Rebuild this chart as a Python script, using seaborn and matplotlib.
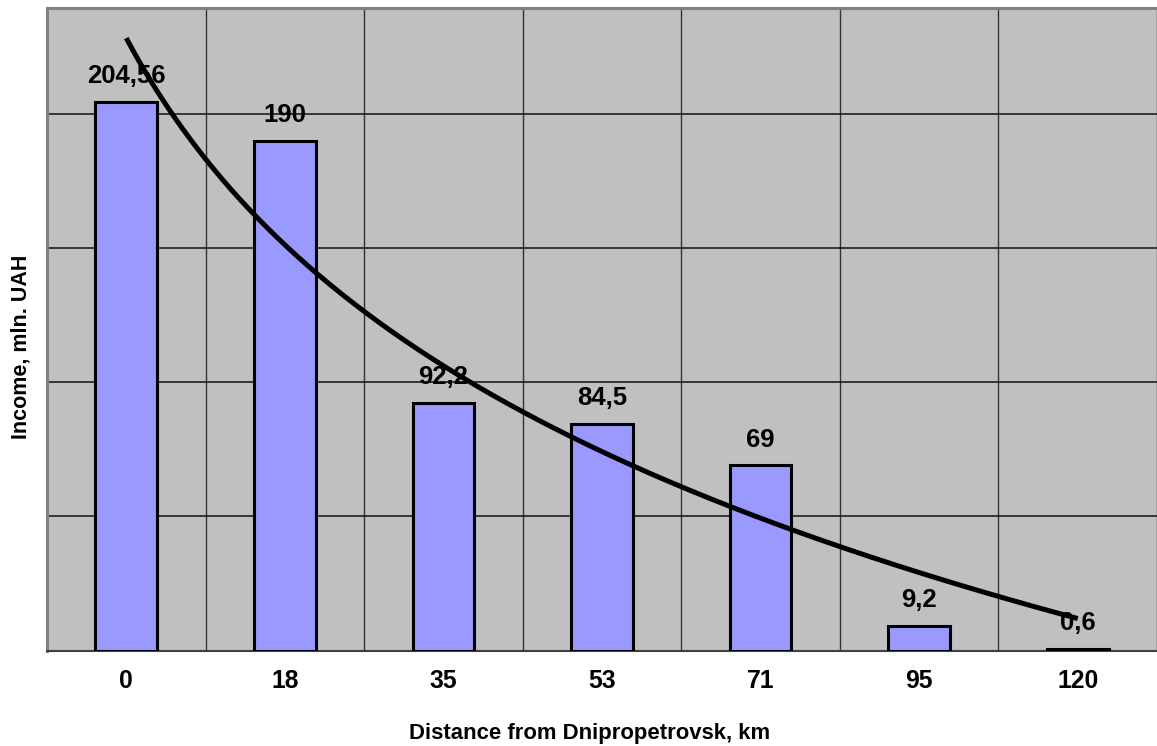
import numpy as np
import pandas as pd
import matplotlib
matplotlib.use("Agg")
import matplotlib.pyplot as plt
import seaborn as sns
from matplotlib.ticker import FixedLocator

distances = ["0", "18", "35", "53", "71", "95", "120"]
income = [204.56, 190, 92.2, 84.5, 69, 9.2, 0.6]
value_labels = ["204,56", "190", "92,2", "84,5", "69", "9,2", "0,6"]

df = pd.DataFrame({"distance": distances, "income": income})

sns.set_theme(style="white")
plt.rcParams["font.family"] = ["Liberation Sans", "DejaVu Sans"]

fig = plt.figure(figsize=(11.57, 7.46), dpi=100)
ax = fig.add_axes([47 / 1157, 1 - 650.5 / 746, 1 - 47 / 1157, (650.5 - 8) / 746])
ax.set_facecolor("#C0C0C0")

sns.barplot(data=df, x="distance", y="income", order=distances, color="#9999FF",
            saturation=1, width=0.39, edgecolor="black", linewidth=2.2, ax=ax, zorder=3)

# labels above bars
for i, (v, lab) in enumerate(zip(income, value_labels)):
    ax.annotate(lab, (i, v), xytext=(0, 10), textcoords="offset points",
                ha="center", va="bottom", fontsize=18.5, fontweight="bold",
                color="black", zorder=4)

# logarithmic trend line fitted to the data
idx = np.arange(1, len(income) + 1)
b, a = np.polyfit(np.log(idx), np.array(income), 1)
t = np.linspace(1, len(income), 300)
ax.plot(t - 1, a + b * np.log(t), color="black", lw=3.6, zorder=5, solid_capstyle="butt")

ax.set_xlim(-0.5, len(income) - 0.5)
ax.set_ylim(0, 239.5)

ax.set_yticks([0, 50, 100, 150, 200])
ax.set_yticklabels([])
ax.tick_params(axis="y", length=0)
ax.yaxis.grid(True, color="#111111", lw=1.1, zorder=1)

ax.xaxis.set_minor_locator(FixedLocator(np.arange(-0.5, len(income), 1.0)))
ax.tick_params(axis="x", which="major", length=0, labelsize=17.8, pad=13, colors="black")
ax.tick_params(axis="x", which="minor", length=8, width=1, color="#333333", direction="out")
ax.xaxis.grid(True, which="minor", color="#333333", lw=1, zorder=1)
ax.xaxis.grid(False, which="major")
ax.set_axisbelow(True)
for lab in ax.get_xticklabels():
    lab.set_fontweight("bold")

for side in ["left", "top"]:
    ax.spines[side].set_color("#808080")
    ax.spines[side].set_linewidth(2.2)
ax.spines["bottom"].set_color("#404040")
ax.spines["bottom"].set_linewidth(1.5)
ax.spines["right"].set_visible(False)

ax.set_xlabel("Distance from Dnipropetrovsk, km", fontsize=15.9, fontweight="bold", color="black")
ax.set_ylabel("Income, mln. UAH", fontsize=15.5, fontweight="bold", color="black")
ax.xaxis.set_label_coords((590 - 47) / 1110, (650.5 - 723) / 642.5)
ax.yaxis.set_label_coords((32 - 47) / 1110, (650.5 - 347) / 642.5)

fig.savefig("out.png", dpi=100, facecolor="white")
